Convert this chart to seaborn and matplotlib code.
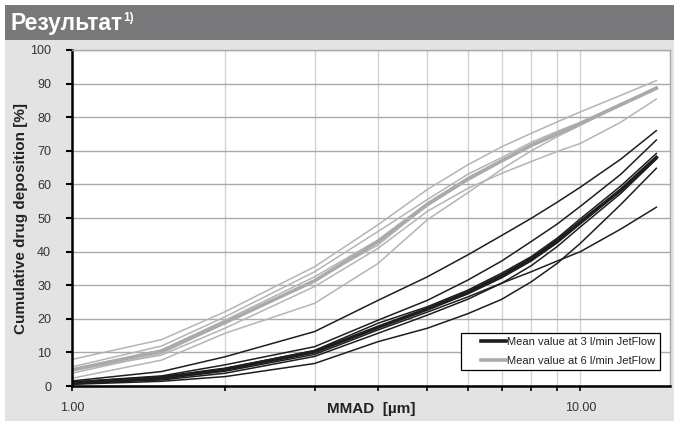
import numpy as np
import pandas as pd
import matplotlib
matplotlib.use('Agg')
import matplotlib.pyplot as plt
import seaborn as sns
from matplotlib.patches import Rectangle
from matplotlib.ticker import FixedLocator, FuncFormatter, NullFormatter

plt.rcParams['font.family'] = ['Liberation Sans', 'DejaVu Sans']

# data
mmad = [1, 1.5, 2, 3, 4, 5, 6, 7, 8, 9, 10, 12, 14.1]

runs_3 = {
    'r1': [1.5, 4.3, 8.7, 16.2, 25.5, 32.5, 39.0, 44.8, 49.9, 54.7, 59.2, 67.5, 76.0],
    'r2': [1.2, 3.0, 6.3, 11.7, 19.6, 25.5, 31.5, 37.2, 43.0, 48.2, 53.5, 63.0, 73.2],
    'r3': [1.0, 2.6, 5.2, 10.6, 18.7, 23.6, 28.5, 33.6, 38.5, 44.0, 49.8, 59.5, 69.2],
    'r4': [0.9, 2.3, 4.8, 10.0, 17.7, 22.8, 27.4, 32.2, 37.2, 42.6, 48.3, 58.2, 68.2],
    'r5': [0.8, 2.1, 4.4, 9.4, 16.7, 22.0, 26.5, 30.6, 34.0, 37.2, 40.0, 46.7, 53.2],
    'r6': [0.5, 1.4, 2.8, 6.7, 13.2, 17.2, 21.5, 25.8, 31.0, 36.5, 42.5, 54.0, 64.8],
    'r7': [0.7, 1.8, 3.8, 8.8, 15.7, 21.1, 25.8, 30.6, 35.8, 41.5, 47.4, 57.3, 67.5],
}
mean_3 = [0.9, 2.5, 5.0, 10.2, 17.5, 22.9, 27.8, 32.8, 37.8, 43.2, 48.8, 58.3, 68.0]

runs_6 = {
    'g1': [7.9, 13.8, 22.1, 35.5, 48.0, 58.5, 65.8, 71.2, 75.2, 78.6, 81.6, 86.5, 90.9],
    'g2': [5.7, 11.9, 20.6, 34.0, 46.0, 55.5, 63.0, 68.0, 72.5, 75.8, 78.5, 84.0, 88.8],
    'g3': [5.0, 10.7, 19.6, 32.5, 43.5, 54.5, 62.0, 67.3, 71.8, 75.2, 78.2, 83.8, 88.4],
    'g4': [3.8, 9.7, 18.7, 31.5, 42.0, 53.8, 61.5, 67.0, 71.5, 75.0, 78.0, 83.5, 88.6],
    'g5': [2.3, 7.7, 15.7, 24.6, 36.5, 49.5, 57.5, 64.5, 70.0, 74.2, 77.6, 83.7, 89.0],
    'g6': [4.6, 9.2, 17.2, 29.6, 41.0, 52.0, 58.8, 63.3, 66.8, 69.8, 72.2, 78.5, 85.4],
}
mean_6 = [4.8, 10.4, 18.9, 31.3, 43.0, 54.0, 61.5, 67.0, 71.6, 75.0, 78.1, 83.7, 88.6]

lab3 = 'Mean value at 3 l/min JetFlow'
lab6 = 'Mean value at 6 l/min JetFlow'

# long tables for seaborn
rows = []
for flow, runs in [('3', runs_3), ('6', runs_6)]:
    for run, vals in runs.items():
        for x, v in zip(mmad, vals):
            rows.append((flow, run, x, v))
ind = pd.DataFrame(rows, columns=['flow', 'run', 'mmad', 'dep'])

mrows = []
for lab, vals in [(lab3, mean_3), (lab6, mean_6)]:
    for x, v in zip(mmad, vals):
        mrows.append((lab, x, v))
means = pd.DataFrame(mrows, columns=['flow', 'mmad', 'dep'])

# figure
fig = plt.figure(figsize=(6.74, 4.23), dpi=100)
fig.patch.set_facecolor('white')
fig.add_artist(Rectangle((5/674, 2/423), 669/674, 381/423, transform=fig.transFigure,
                         facecolor='#e3e3e3', edgecolor='none', zorder=0))
fig.add_artist(Rectangle((5/674, 1 - 40/423), 669/674, 35/423, transform=fig.transFigure,
                         facecolor='#78787a', edgecolor='none', zorder=0))

ax = fig.add_axes([72/674, 37/423, 598/674, 336/423])
ax.set_facecolor('white')

sns.lineplot(data=ind, x='mmad', y='dep', hue='flow', units='run', estimator=None,
             palette={'3': '#1e1e1e', '6': '#b4b4b4'}, linewidth=1.1, legend=False,
             sort=False, ax=ax)
sns.lineplot(data=means, x='mmad', y='dep', hue='flow', estimator=None,
             palette={lab3: '#1e1e1e', lab6: '#aaaaaa'}, linewidth=2.6, legend='brief',
             sort=False, ax=ax)

ax.set_xscale('log')
ax.set_xlim(1, 15)
ax.set_ylim(0, 100)
ax.set_yticks(range(0, 101, 10))
ax.xaxis.set_major_locator(FixedLocator([1, 10]))
ax.xaxis.set_minor_locator(FixedLocator([2, 3, 4, 5, 6, 7, 8, 9]))
ax.xaxis.set_major_formatter(FuncFormatter(lambda v, p: f'{v:.2f}'))
ax.xaxis.set_minor_formatter(NullFormatter())

ax.set_axisbelow(True)
ax.grid(axis='y', which='major', color='#aaaaaa', linewidth=1.0)
ax.grid(axis='x', which='both', color='#d2d2d2', linewidth=1.0)

for s in ['top', 'right']:
    ax.spines[s].set_color('#a8a8a8')
    ax.spines[s].set_linewidth(1.0)
for s in ['left', 'bottom']:
    ax.spines[s].set_color('black')
    ax.spines[s].set_linewidth(1.8)

ax.tick_params(axis='y', direction='out', length=4, width=1.5, color='black',
               pad=11, labelsize=9, labelcolor='#333333')
ax.tick_params(axis='x', which='both', direction='out', length=3.5, width=1.2,
               color='black', pad=8, labelsize=9, labelcolor='#333333')

ax.set_xlabel('MMAD  [µm]', fontsize=11, fontweight='bold', color='#222222')
ax.set_ylabel('Cumulative drug deposition [%]', fontsize=11, fontweight='bold', color='#222222')
ax.xaxis.set_label_coords(0.5, -0.048)
ax.yaxis.set_label_coords(-0.074, 0.5)

handles, labels = ax.get_legend_handles_labels()
leg = ax.legend(handles, labels, loc='lower right', bbox_to_anchor=(1 - 10/598, 16/336),
                borderaxespad=0, frameon=True, fancybox=False, edgecolor='black',
                framealpha=1, fontsize=8, handlelength=3.7, handletextpad=0.1,
                labelspacing=0.75, borderpad=0.4)
leg.get_frame().set_linewidth(0.9)
for t in leg.get_texts():
    t.set_color('#222222')
# excel style: short line sitting right next to the text, blank space on its left
hl = 3.7 * 8
for ln in leg.get_lines():
    y0 = ln.get_ydata()[0]
    ln.set_data([hl - 18.5, hl], [y0, y0])

# header
title = fig.text(10/674, 1 - 30/423, 'Результат', color='white', fontsize=16.5,
                 fontweight='bold', ha='left', va='baseline')
fig.canvas.draw()
bb = title.get_window_extent()
fig.text((bb.x1 + 1)/674, 1 - 21/423, '1)', color='white', fontsize=8.5,
         fontweight='bold', ha='left', va='baseline')

fig.savefig('out.png', dpi=100, facecolor=fig.get_facecolor())
